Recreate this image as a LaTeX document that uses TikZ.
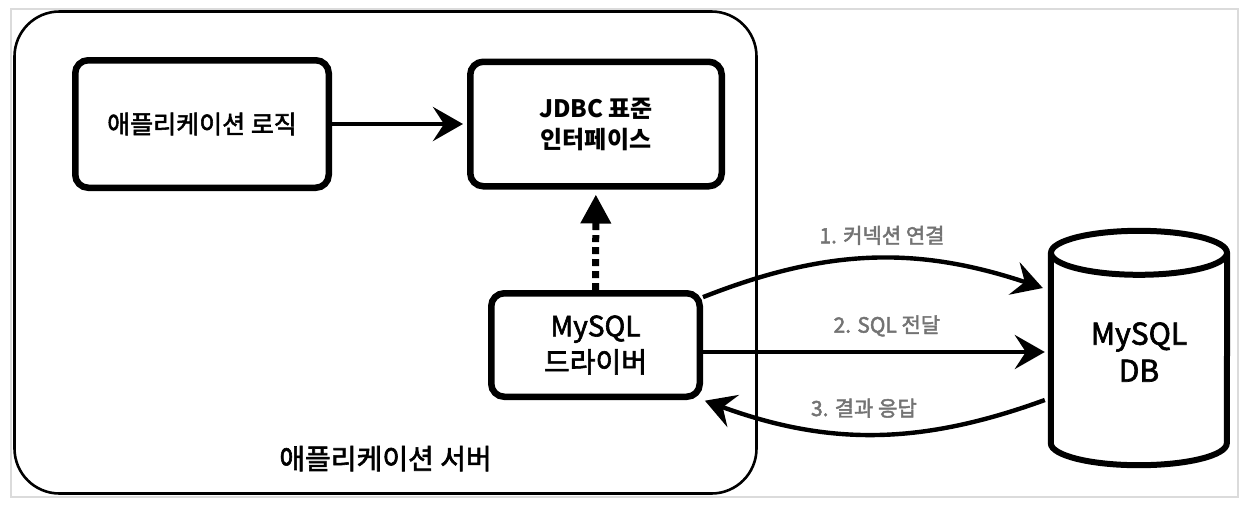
\documentclass[tikz,border=0pt]{standalone}
\usepackage{fontspec}
\setmainfont{Noto Sans CJK KR}
\newfontfamily\mediumfont[FakeBold=2.2]{Noto Sans CJK KR}
\usetikzlibrary{arrows.meta,positioning,calc}
\tikzset{
    frame color/.style={black!14},
    box style/.style={draw, line width=6.5pt, rounded corners=13pt, align=center},
    server style/.style={draw, line width=2.6pt, rounded corners=45pt},
    db style/.style={line width=6pt},
    arr/.style={-{Stealth[length=30pt,width=34pt,inset=11pt]}, line width=4.4pt},
    dotted arr/.style={-{Triangle[length=29pt,width=29pt]}, line width=7pt, dash pattern=on 7pt off 5pt},
    step label/.style={text=black!55, font=\fontsize{21}{24}\mediumfont},
}

\begin{document}
\begin{tikzpicture}[x=1pt, y=-1pt]
    \useasboundingbox (0,0) rectangle (1247,507);
    \draw[frame color, line width=1.5pt] (11,9) rectangle (1238,497);

    % application server
    \node[server style, minimum width=742pt, minimum height=482pt] (Server) at (385.5,252.5) {};
    \node[above=20pt of Server.south, font=\fontsize{28}{32}\mediumfont] (ServerLabel) {애플리케이션 서버};

    \node[box style, font=\fontsize{25}{30}\mediumfont, minimum width=253.5pt, minimum height=127.5pt] (Logic) at (202,124) {애플리케이션 로직};
    \node[box style, font=\fontsize{24}{31}\selectfont\bfseries, minimum width=251.5pt, minimum height=124.5pt] (Interface) at (596,124) {JDBC 표준\\인터페이스};
    \node[box style, font=\fontsize{28}{36}\mediumfont, minimum width=208.5pt, minimum height=103.5pt] (Driver) at (595.5,345) {MySQL\\드라이버};

    % database
    \node[minimum width=176pt, minimum height=234pt, align=center, font=\fontsize{30}{37}\mediumfont] (Database) at (1139,352) {MySQL\\DB};
    \draw[db style] ($(Database.north west)+(0,18)$) -- ($(Database.south west)+(0,-26)$)
        arc[start angle=180, end angle=0, x radius=88, y radius=22]
        -- ($(Database.north east)+(0,18)$);
    \draw[db style] ($(Database.north)+(0,18)$) ellipse[x radius=88, y radius=22];

    \draw[arr, shorten >=4pt] (Logic) -- (Interface);
    \draw[dotted arr, shorten >=5pt] (Driver) -- (Interface);

    \draw[arr] (Driver.24) to[bend left=20]
        node[step label, midway, above=8pt, xshift=10pt] (ConnectLabel) {1. 커넥션 연결}
        ($(Database.west)+(-8,-64)$);
    \draw[arr, shorten >=6pt] (Driver.east |- Database.west) --
        node[step label, midway, above=10pt, xshift=10pt] (SqlLabel) {2. SQL 전달}
        (Database.west);
    \draw[arr, shorten >=2pt] ($(Database.west)+(-6,48)$) to[bend left=20]
        node[step label, midway, above=11pt, xshift=-10pt] (ResultLabel) {3. 결과 응답}
        (Driver.south east);
\end{tikzpicture}
\end{document}
